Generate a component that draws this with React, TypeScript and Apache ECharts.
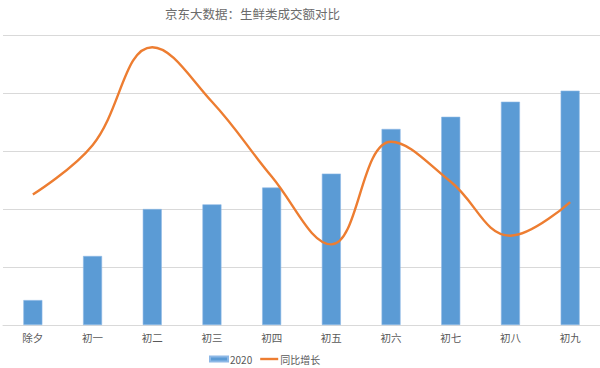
import React, { useEffect, useRef } from "react";
import * as echarts from "echarts";

const categories = ["除夕", "初一", "初二", "初三", "初四", "初五", "初六", "初七", "初八", "初九"];
const sales2020 = [0.43, 1.19, 2.0, 2.08, 2.37, 2.61, 3.38, 3.59, 3.85, 4.04];
const yoyGrowth = [2.25, 3.1, 4.79, 3.85, 2.56, 1.39, 3.16, 2.47, 1.54, 2.12];
const titleText = "京东大数据：生鲜类成交额对比";

export default function App() {
  const ref = useRef<HTMLDivElement>(null);
  useEffect(() => {
    if (!ref.current) return;
    const chart = echarts.init(ref.current, null, { renderer: "svg" });
    chart.setOption({
      animation: false,
      backgroundColor: "#ffffff",
      title: {
        text: titleText,
        left: 165,
        top: 7,
        padding: 0,
        textStyle: { fontSize: 12.5, fontWeight: "normal", color: "#6b6b6b", fontFamily: "Noto Sans CJK SC" },
      },
      legend: {
        left: 209,
        top: 354,
        padding: 0,
        itemWidth: 18,
        itemHeight: 5,
        itemGap: 8,
        textStyle: { fontSize: 10, color: "#595959", fontFamily: "Noto Sans CJK SC", padding: [0, 0, 0, -3] },
        data: [
          { name: "2020", icon: "rect" },
          { name: "同比增长", icon: "path://M0,0 L18,0 L18,2.4 L0,2.4 Z" },
        ],
      },
      grid: { left: 3, right: -3, top: 35, bottom: 43, containLabel: false },
      xAxis: {
        type: "category",
        data: categories,
        axisLine: { lineStyle: { color: "#D9D9D9", width: 1 } },
        axisTick: { show: false },
        axisLabel: { color: "#595959", fontSize: 10.5, margin: 7, fontFamily: "Noto Sans CJK SC" },
      },
      yAxis: {
        type: "value",
        min: 0,
        max: 5,
        interval: 1,
        axisLabel: { show: false },
        axisLine: { show: false },
        axisTick: { show: false },
        splitLine: { lineStyle: { color: "#D9D9D9", width: 1 } },
      },
      series: [
        {
          name: "2020",
          type: "bar",
          data: sales2020,
          barWidth: 19,
          itemStyle: { color: "#5B9BD5", borderColor: "#8DB8E6", borderWidth: 0.6 },
        },
        {
          name: "同比增长",
          type: "line",
          data: yoyGrowth,
          smooth: 0.4,
          symbol: "none",
          lineStyle: { color: "#ED7D31", width: 2.4 },
          itemStyle: { color: "#ED7D31" },
        },
      ],
    });
    return () => chart.dispose();
  }, []);
  return (
    <div
      ref={ref}
      style={{ position: "fixed", left: 0, top: 0, width: 600, height: 368 }}
    />
  );
}
